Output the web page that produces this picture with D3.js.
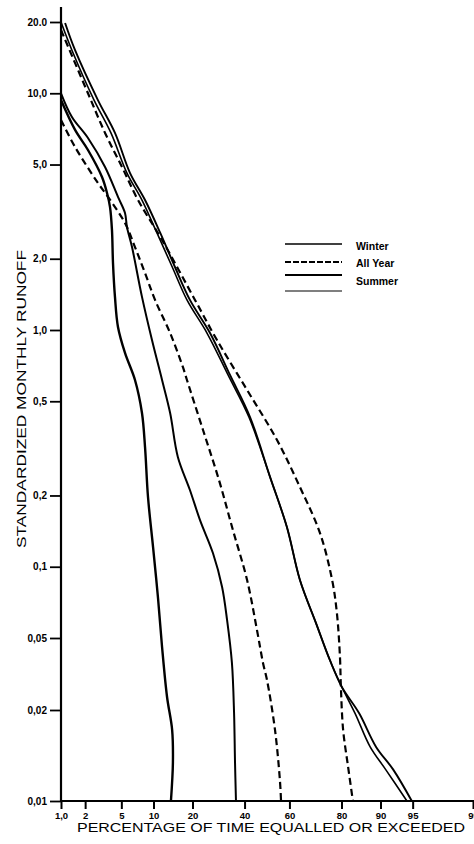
<!DOCTYPE html>
<html><head><meta charset="utf-8">
<script src="https://cdn.jsdelivr.net/npm/d3@7"></script>
<style>body{margin:0;background:#fff}svg{display:block}</style>
</head><body>
<svg id="c" width="474" height="844"></svg>
<script>
// ---- data (percent of time equalled or exceeded, standardized monthly runoff) ----
const xTicks = [1, 2, 5, 10, 20, 40, 60, 80, 90, 95, 99];
const xTickLabels = ["1,0", "2", "5", "10", "20", "40", "60", "80", "90", "95", "99"];
const yTicks = [20, 10, 5, 2, 1, 0.5, 0.2, 0.1, 0.05, 0.02, 0.01];
const yTickLabels = ["20.0", "10,0", "5,0", "2,0", "1,0", "0,5", "0,2", "0,1", "0,05", "0,02", "0,01"];
const legendLabels = ["Winter", "All Year", "Summer", ""];

// group starting near 10
const lowSolidInner = [[1.0,9.36],[1.51,7.0],[2.16,5.76],[3.12,4.43],[3.54,3.79],[3.81,3.31],[4.0,2.64],[4.10,1.92],[4.30,1.38],[4.62,1.03],[5.44,0.80],[6.80,0.615],[7.90,0.446],[8.42,0.320],[8.95,0.197],[9.91,0.121],[10.9,0.0745],[11.8,0.0446],[12.95,0.0236],[14.2,0.0172],[14.4,0.0134],[13.9,0.01]];
const lowSolidOuter = [[1.0,10.0],[1.38,7.94],[2.16,6.47],[3.37,4.88],[4.62,3.65],[5.44,3.12],[5.69,2.72],[6.37,2.24],[7.90,1.38],[9.70,0.907],[11.8,0.615],[13.7,0.446],[15.7,0.291],[19.2,0.211],[22.5,0.157],[27.1,0.114],[30.6,0.0821],[32.6,0.0596],[34.6,0.0364],[35.5,0.0195],[35.9,0.0134],[36.3,0.01]];
const lowDashed = [[1.0,7.71],[1.51,5.93],[2.81,4.18],[3.63,3.65],[5.44,2.83],[6.80,2.24],[8.42,1.74],[10.3,1.34],[13.7,0.971],[17.1,0.698],[18.3,0.615],[23.5,0.378],[29.4,0.232],[35.0,0.143],[41.1,0.0879],[45.5,0.054],[48.2,0.0364],[50,0.0293],[53.6,0.0172],[55.8,0.0117],[56.3,0.01]];
// group starting near 20
const highSolid1 = [[1.13,19.8],[1.51,15.2],[2.81,9.36],[4.30,6.80],[6.10,4.60],[8.42,3.54],[11.4,2.57],[14.9,1.85],[19.2,1.34],[26.0,0.971],[33.8,0.646],[42.4,0.429],[51.4,0.239],[58.9,0.147],[64.5,0.0879],[71.0,0.0578],[76.1,0.0378],[80.1,0.0268],[85.1,0.0195],[89.1,0.0151],[92.3,0.0127],[94.9,0.01]];
const highSolid2 = [[1.0,20.0],[1.38,15.2],[2.54,9.36],[3.90,6.80],[5.69,4.60],[7.90,3.54],[10.7,2.57],[14.2,1.85],[18.3,1.34],[24.9,0.971],[33.0,0.646],[41.9,0.429],[51.4,0.239],[58.9,0.147],[64.5,0.0879],[71.0,0.0578],[76.1,0.0378],[80.1,0.0268],[84.0,0.0195],[87.8,0.0151],[91.0,0.0127],[94.3,0.01]];
const highDashed = [[1.0,18.5],[2.16,10.0],[3.37,6.80],[5.08,4.88],[7.26,3.54],[11.8,2.40],[20.8,1.34],[28.6,0.907],[41.1,0.558],[54.5,0.343],[64.5,0.217],[72.5,0.139],[76.9,0.0879],[78.5,0.0638],[79.5,0.0393],[79.8,0.0268],[80.5,0.0172],[82.0,0.0130],[83.4,0.01]];

// ---- normal probability transform ----
const A=[-3.969683028665376e+01,2.209460984245205e+02,-2.759285104469687e+02,1.383577518672690e+02,-3.066479806614716e+01,2.506628277459239e+00];
const B=[-5.447609879822406e+01,1.615858368580409e+02,-1.556989798598866e+02,6.680131188771972e+01,-1.328068155288572e+01];
const C=[-7.784894002430293e-03,-3.223964580411365e-01,-2.400758277161838e+00,-2.549732539343734e+00,4.374664141464968e+00,2.938163982698783e+00];
const D=[7.784695709041462e-03,3.224671290700398e-01,2.445134137142996e+00,3.754408661907416e+00];
function probit(p){
  const pl=0.02425; let q,r;
  if(p<pl){q=Math.sqrt(-2*Math.log(p));return (((((C[0]*q+C[1])*q+C[2])*q+C[3])*q+C[4])*q+C[5])/((((D[0]*q+D[1])*q+D[2])*q+D[3])*q+1);}
  if(p<=1-pl){q=p-0.5;r=q*q;return (((((A[0]*r+A[1])*r+A[2])*r+A[3])*r+A[4])*r+A[5])*q/(((((B[0]*r+B[1])*r+B[2])*r+B[3])*r+B[4])*r+1);}
  q=Math.sqrt(-2*Math.log(1-p));return -(((((C[0]*q+C[1])*q+C[2])*q+C[3])*q+C[4])*q+C[5])/((((D[0]*q+D[1])*q+D[2])*q+D[3])*q+1);
}

const svg = d3.select("#c");
const xz = d3.scaleLinear().domain([probit(0.01), probit(0.99)]).range([61, 473]);
const x = p => xz(probit(p / 100));
const y = d3.scaleLog().domain([0.01, 0.02, 0.05, 20]).range([801, 710, 638, 22]);

const tickFont = "bold 10px 'Liberation Sans', Arial, sans-serif";

// y axis
const gy = svg.append("g").attr("transform", "translate(61,0)")
  .call(d3.axisLeft(y).tickValues(yTicks).tickFormat((d,i)=>yTickLabels[i]).tickSize(11).tickSizeOuter(0).tickPadding(3));
gy.select(".domain").remove();
gy.selectAll(".tick line").attr("stroke","#000").attr("stroke-width",1.8);
gy.selectAll(".tick text").style("font", tickFont).attr("fill","#000");

// x axis
const gx = svg.append("g").attr("transform", "translate(0,801)")
  .call(d3.axisBottom(xz).tickValues(xTicks.map(p=>probit(p/100))).tickFormat((d,i)=>xTickLabels[i]).tickSize(8).tickSizeOuter(0).tickPadding(3));
gx.select(".domain").remove();
gx.selectAll(".tick line").attr("stroke","#000").attr("stroke-width",2);
gx.selectAll(".tick text").style("font", "bold 9.5px 'Liberation Sans', Arial, sans-serif").attr("fill","#000");

// axis lines
svg.append("line").attr("x1",61).attr("x2",61).attr("y1",7).attr("y2",y(0.01)+1).attr("stroke","#000").attr("stroke-width",2.2);
svg.append("line").attr("x1",60).attr("x2",474).attr("y1",y(0.01)).attr("y2",y(0.01)).attr("stroke","#000").attr("stroke-width",2.2);

// curves
const line = d3.line().x(d=>x(d[0])).y(d=>y(d[1])).curve(d3.curveCatmullRom.alpha(0.5));
const series = [
  {data: lowSolidInner, dash: null, w: 2.4},
  {data: lowSolidOuter, dash: null, w: 2.0},
  {data: lowDashed, dash: "7,4", w: 2.2},
  {data: highSolid1, dash: null, w: 1.9},
  {data: highSolid2, dash: null, w: 1.6},
  {data: highDashed, dash: "7,4", w: 2.2}
];
svg.append("g").selectAll("path").data(series).join("path")
  .attr("d", d=>line(d.data)).attr("fill","none").attr("stroke","#000")
  .attr("stroke-width", d=>d.w).attr("stroke-dasharray", d=>d.dash);

// legend
const legendRows = [
  {ly: 244, ty: 250, dash: null, w: 1.4},
  {ly: 262, ty: 267, dash: "6,2", w: 1.8},
  {ly: 275, ty: 285, dash: null, w: 1.8},
  {ly: 291, ty: null, dash: null, w: 1.2}
];
const lg = svg.append("g");
legendRows.forEach((r,i)=>{
  lg.append("line").attr("x1",285).attr("x2",342).attr("y1",r.ly).attr("y2",r.ly)
    .attr("stroke","#000").attr("stroke-width",r.w).attr("stroke-dasharray",r.dash);
  if (legendLabels[i]) lg.append("text").attr("x",356).attr("y",r.ty).text(legendLabels[i])
    .style("font","bold 10.5px 'Liberation Sans', Arial, sans-serif").attr("fill","#000");
});

// axis titles
svg.append("text").attr("x",77).attr("y",832).text("PERCENTAGE OF TIME EQUALLED OR EXCEEDED")
  .attr("textLength",388).attr("lengthAdjust","spacingAndGlyphs")
  .style("font","13.5px 'Liberation Sans', Arial, sans-serif").attr("fill","#000");
svg.append("text").attr("transform","translate(26,399) rotate(-90)").attr("text-anchor","middle")
  .text("STANDARDIZED MONTHLY RUNOFF").attr("textLength",298).attr("lengthAdjust","spacingAndGlyphs")
  .style("font","13.5px 'Liberation Sans', Arial, sans-serif").attr("fill","#000");
</script>
</body></html>
